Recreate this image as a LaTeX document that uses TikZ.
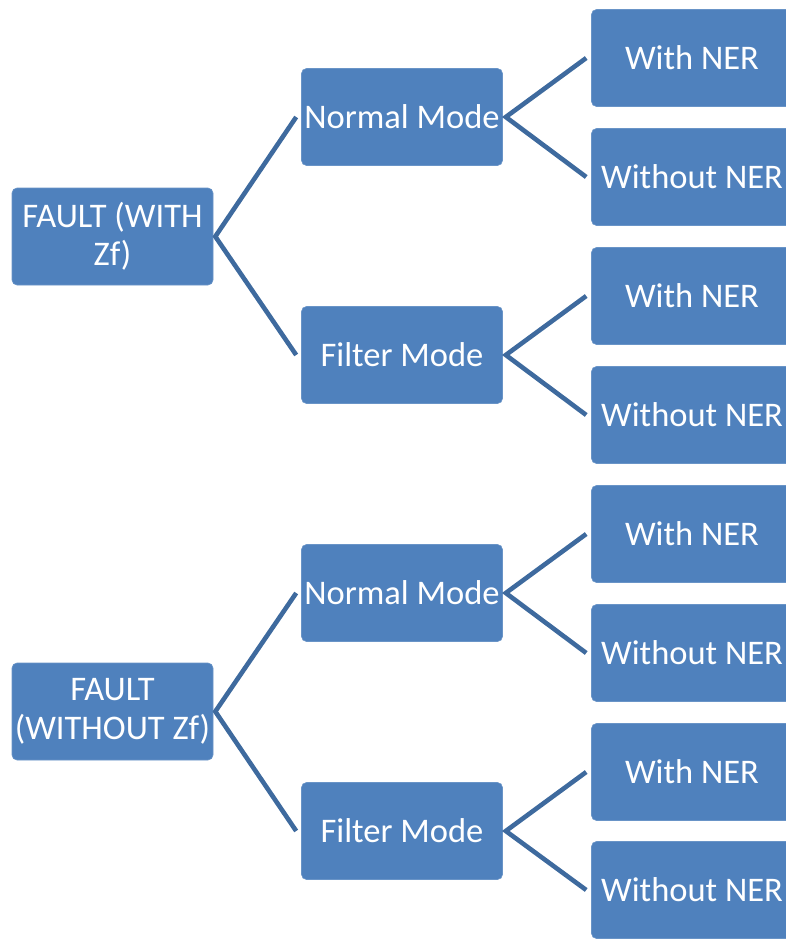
\documentclass[tikz,border=0pt]{standalone}
\usepackage{fontspec}
\setmainfont{Carlito}
\usetikzlibrary{calc}
\definecolor{boxblue}{HTML}{4F81BD}
\definecolor{lineblue}{HTML}{3E6A9E}
\begin{document}
\begin{tikzpicture}[x=1pt,y=-1pt,
  box/.style={rectangle, rounded corners=5pt, fill=boxblue, draw=boxblue!85!white, line width=0.6pt,
    minimum width=201pt, minimum height=97pt, inner sep=0pt, text=white,
    font=\fontsize{34.5}{38.5}\selectfont, align=center},
  conn/.style={draw=lineblue, line width=4.6pt, line join=miter}]
\useasboundingbox (0,0) rectangle (786,940);
% roots
\node[box] (r1) at (112.5,236.5) {FAULT (WITH\\Zf)};
\node[box] (r2) at (112.5,711.5) {FAULT\\(WITHOUT Zf)};
% middles
\node[box] (m1) at (402,117) {Normal Mode};
\node[box] (m2) at (402,355) {Filter Mode};
\node[box] (m3) at (402,593) {Normal Mode};
\node[box] (m4) at (402,831) {Filter Mode};
% leaves
\node[box] (l1) at (692,58) {With NER};
\node[box] (l2) at (692,177) {Without NER};
\node[box] (l3) at (692,296) {With NER};
\node[box] (l4) at (692,415) {Without NER};
\node[box] (l5) at (692,534) {With NER};
\node[box] (l6) at (692,653) {Without NER};
\node[box] (l7) at (692,772) {With NER};
\node[box] (l8) at (692,890) {Without NER};
% connectors
\draw[conn] ($(m1.west)+(-5,0)$) -- ($(r1.east)+(2,0)$) -- ($(m2.west)+(-5,0)$);
\draw[conn] ($(m3.west)+(-5,0)$) -- ($(r2.east)+(2,0)$) -- ($(m4.west)+(-5,0)$);
\draw[conn] ($(l1.west)+(-5,0)$) -- ($(m1.east)+(3,0)$) -- ($(l2.west)+(-5,0)$);
\draw[conn] ($(l3.west)+(-5,0)$) -- ($(m2.east)+(3,0)$) -- ($(l4.west)+(-5,0)$);
\draw[conn] ($(l5.west)+(-5,0)$) -- ($(m3.east)+(3,0)$) -- ($(l6.west)+(-5,0)$);
\draw[conn] ($(l7.west)+(-5,0)$) -- ($(m4.east)+(3,0)$) -- ($(l8.west)+(-5,0)$);
\end{tikzpicture}
\end{document}
